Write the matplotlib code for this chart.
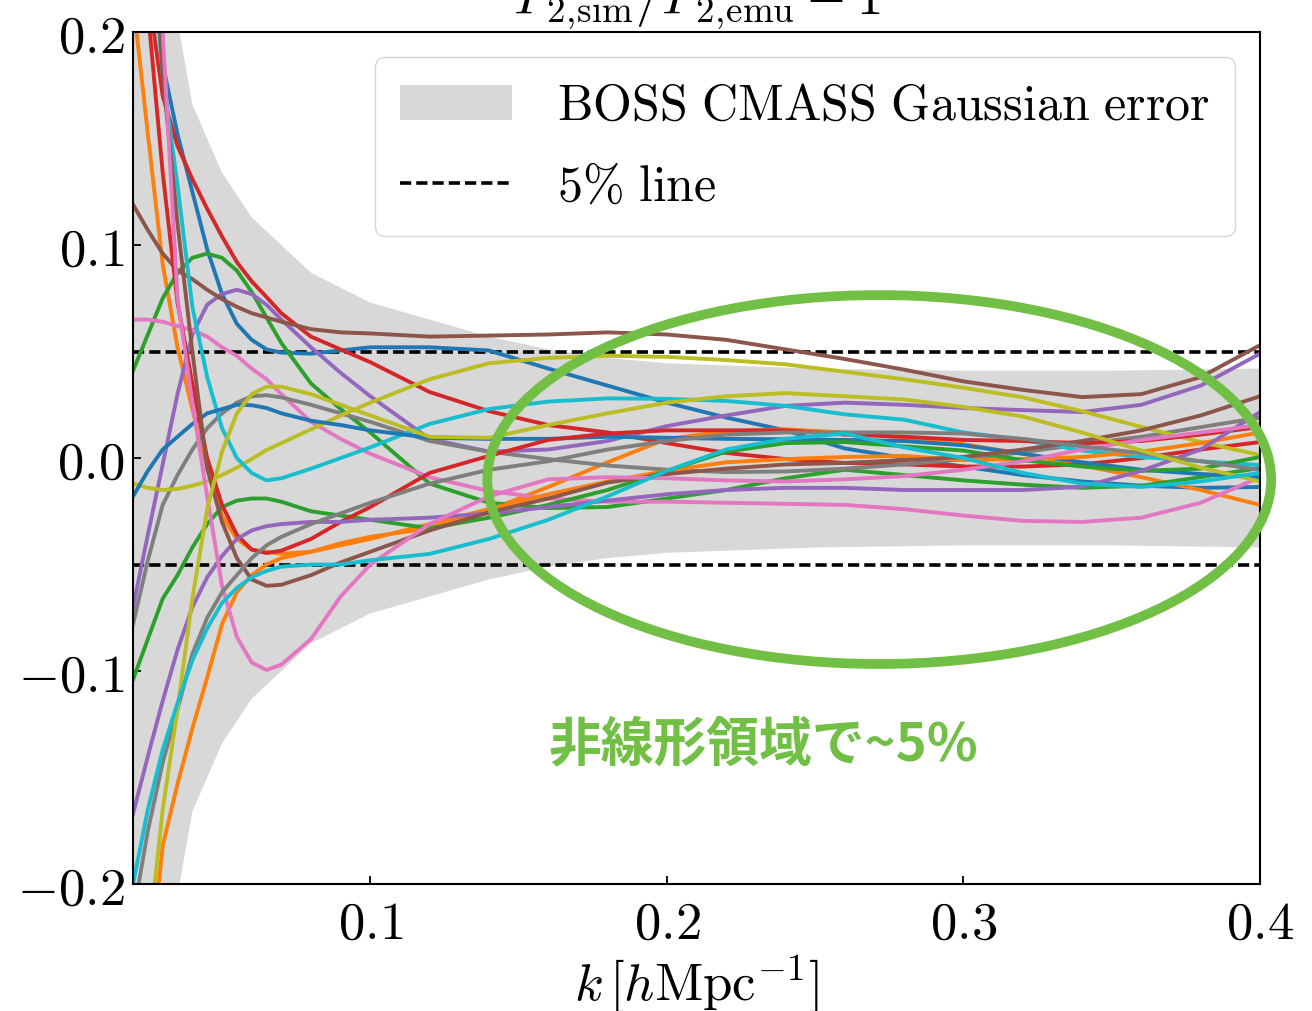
import matplotlib
matplotlib.use("Agg")
import matplotlib.pyplot as plt
from matplotlib.patches import Ellipse
from matplotlib.ticker import FuncFormatter

plt.rcParams["mathtext.fontset"] = "cm"

# k grid shared by all curves [h/Mpc]
k = [0.02, 0.025, 0.03, 0.035, 0.04, 0.045, 0.05, 0.055, 0.06, 0.065, 0.07,
     0.08, 0.09, 0.10, 0.12, 0.14, 0.16, 0.18, 0.20, 0.22, 0.24, 0.26, 0.28,
     0.30, 0.32, 0.34, 0.36, 0.38, 0.40]

# P2 sim / P2 emu - 1, two curves per colour
blue_a = [0.45, 0.26, 0.185, 0.152, 0.125, 0.098, 0.077, 0.063, 0.0555, 0.051, 0.0495,
          0.049, 0.0505, 0.052, 0.052, 0.0505, 0.042, 0.034, 0.026, 0.019, 0.013, 0.0045, 0.0,
          -0.004, -0.008, -0.011, -0.013, -0.014, -0.0136]
orange_a = [0.215, 0.152, 0.091, 0.052, 0.023, -0.004, -0.027, -0.038, -0.043, -0.044, -0.045,
            -0.044, -0.040, -0.037, -0.033, -0.0245, -0.0136, -0.002, 0.009, 0.0125, 0.0135, 0.012, 0.0095,
            0.0065, 0.002, -0.0035, -0.009, -0.015, -0.022]
green_a = [0.041, 0.058, 0.075, 0.087, 0.094, 0.096, 0.094, 0.088, 0.078, 0.066, 0.054,
           0.035, 0.023, 0.012, -0.012, -0.021, -0.0235, -0.023, -0.019, -0.015, -0.0095, -0.0055, -0.008,
           -0.0105, -0.0125, -0.014, -0.013, -0.009, -0.0047]
red_a = [0.30, 0.22, 0.17, 0.1465, 0.131, 0.117, 0.104, 0.092, 0.083, 0.0756, 0.068,
         0.057, 0.051, 0.045, 0.031, 0.022, 0.0155, 0.012, 0.007, 0.0024, -0.0005, -0.0023, -0.003,
         -0.004, -0.004, -0.003, 0.0, 0.004, 0.0075]
purple_a = [-0.07, -0.036, -0.003, 0.030, 0.058, 0.072, 0.077, 0.079, 0.077, 0.072, 0.065,
            0.052, 0.040, 0.029, 0.009, 0.003, 0.004, 0.008, 0.015, 0.020, 0.0245, 0.026, 0.025,
            0.0235, 0.0225, 0.0216, 0.025, 0.034, 0.049]
brown_a = [0.119, 0.107, 0.096, 0.088, 0.084, 0.079, 0.0746, 0.071, 0.068, 0.066, 0.064,
           0.0605, 0.059, 0.0585, 0.057, 0.0575, 0.058, 0.059, 0.058, 0.0555, 0.051, 0.0465, 0.0415,
           0.036, 0.032, 0.0286, 0.030, 0.038, 0.053]
pink_a = [0.065, 0.065, 0.064, 0.062, 0.060, 0.057, 0.052, 0.048, 0.042, 0.037, 0.030,
          0.017, 0.009, 0.002, -0.009, -0.0155, -0.019, -0.0205, -0.0205, -0.021, -0.0215, -0.022, -0.024,
          -0.027, -0.0295, -0.030, -0.028, -0.021, -0.009]
gray_a = [-0.078, -0.048, -0.022, -0.008, 0.004, 0.014, 0.021, 0.026, 0.029, 0.0295, 0.0285,
          0.025, 0.021, 0.017, 0.008, 0.003, -0.0005, -0.0035, -0.0055, -0.0066, -0.0063, -0.005, -0.003,
          -0.0005, 0.0027, 0.0065, 0.010, 0.0145, 0.019]
olive_a = [-0.012, -0.014, -0.015, -0.0145, -0.013, -0.011, -0.008, -0.0045, -0.0005, 0.0038, 0.007,
           0.0135, 0.020, 0.026, 0.037, 0.0445, 0.047, 0.048, 0.0475, 0.046, 0.044, 0.0405, 0.037,
           0.033, 0.0285, 0.022, 0.0146, 0.0075, 0.0014]
cyan_a = [0.50, 0.26, 0.18, 0.128, 0.071, 0.038, 0.014, 0.0, -0.007, -0.0105, -0.0095,
          -0.005, 0.0, 0.005, 0.016, 0.023, 0.0265, 0.028, 0.0278, 0.0268, 0.0245, 0.0205, 0.018,
          0.012, 0.0085, 0.0035, 0.0005, -0.0015, -0.0033]

blue_b = [-0.018, -0.006, 0.004, 0.010, 0.016, 0.021, 0.023, 0.025, 0.0248, 0.0235, 0.021,
          0.0175, 0.0155, 0.013, 0.0095, 0.009, 0.009, 0.010, 0.0095, 0.009, 0.0088, 0.0085, 0.008,
          0.006, 0.002, -0.002, -0.0055, -0.0075, -0.009]
orange_b = [-0.30, -0.25, -0.182, -0.153, -0.127, -0.103, -0.078, -0.063, -0.055, -0.050, -0.047,
            -0.044, -0.041, -0.038, -0.031, -0.024, -0.017, -0.011, -0.006, -0.002, -0.0005, 0.0005, 0.001,
            -0.001, -0.0005, 0.0005, 0.003, 0.007, 0.012]
green_b = [-0.104, -0.085, -0.066, -0.055, -0.042, -0.031, -0.023, -0.020, -0.019, -0.019, -0.0205,
           -0.025, -0.027, -0.029, -0.033, -0.028, -0.022, -0.015, -0.006, 0.003, 0.007, 0.0075, 0.0055,
           0.0035, -0.001, -0.004, -0.006, -0.005, 0.0005]
red_b = [0.45, 0.21, 0.134, 0.073, 0.035, 0.0, -0.022, -0.036, -0.043, -0.0446, -0.0435,
         -0.038, -0.030, -0.023, -0.007, 0.001, 0.0085, 0.0115, 0.013, 0.013, 0.013, 0.011, 0.010,
         0.0085, 0.008, 0.007, 0.008, 0.011, 0.0146]
purple_b = [-0.167, -0.14, -0.114, -0.090, -0.070, -0.056, -0.046, -0.038, -0.034, -0.032, -0.031,
            -0.030, -0.030, -0.029, -0.028, -0.026, -0.023, -0.020, -0.017, -0.015, -0.014, -0.014, -0.015,
            -0.015, -0.015, -0.0135, -0.006, 0.004, 0.0216]
brown_b = [0.55, 0.30, 0.18, 0.11, 0.05, -0.005, -0.030, -0.047, -0.057, -0.060, -0.0595,
           -0.055, -0.049, -0.044, -0.034, -0.0255, -0.019, -0.0115, -0.0075, -0.005, -0.003, -0.0023, -0.001,
           0.0005, 0.004, 0.008, 0.013, 0.020, 0.029]
pink_b = [0.60, 0.35, 0.20, 0.075, 0.026, -0.018, -0.060, -0.084, -0.096, -0.0995, -0.097,
          -0.085, -0.065, -0.050, -0.031, -0.018, -0.010, -0.009, -0.0095, -0.0105, -0.011, -0.010, -0.0085,
          -0.0055, -0.0015, 0.004, 0.0085, 0.012, 0.0155]
gray_b = [-0.215, -0.175, -0.143, -0.118, -0.092, -0.075, -0.063, -0.055, -0.047, -0.041, -0.037,
          -0.031, -0.026, -0.021, -0.012, -0.0055, -0.0015, 0.004, 0.008, 0.011, 0.012, 0.012, 0.012,
          0.0115, 0.009, 0.0055, 0.0023, -0.0015, -0.0056]
olive_b = [-0.30, -0.23, -0.165, -0.118, -0.066, -0.024, 0.003, 0.021, 0.030, 0.0335, 0.0335,
           0.030, 0.025, 0.020, 0.010, 0.0095, 0.0155, 0.021, 0.026, 0.029, 0.0305, 0.029, 0.0275,
           0.024, 0.0195, 0.012, 0.0035, -0.0045, -0.011]
cyan_b = [-0.20, -0.165, -0.137, -0.115, -0.095, -0.080, -0.068, -0.061, -0.056, -0.053, -0.051,
          -0.050, -0.050, -0.048, -0.045, -0.038, -0.029, -0.018, -0.006, 0.004, 0.009, 0.0115, 0.005,
          0.0, -0.007, -0.012, -0.0136, -0.011, -0.007]

# BOSS CMASS Gaussian error
k_err = [0.02, 0.03, 0.04, 0.05, 0.06, 0.08, 0.10, 0.12, 0.14, 0.16, 0.18, 0.20,
         0.25, 0.30, 0.35, 0.40]
err = [0.42, 0.245, 0.166, 0.134, 0.113, 0.087, 0.073, 0.065, 0.057, 0.051, 0.047, 0.0445,
       0.042, 0.041, 0.041, 0.042]

curves = [blue_a, orange_a, green_a, red_a, purple_a, brown_a, pink_a, gray_a, olive_a, cyan_a,
          blue_b, orange_b, green_b, red_b, purple_b, brown_b, pink_b, gray_b, olive_b, cyan_b]

mark_green = "#71bf44"

fig = plt.figure(figsize=(13.12, 10.11), dpi=100)
ax = fig.add_axes([0.1014, 0.1256, 0.859, 0.8427])

lower = [-e for e in err]
ax.fill_between(k_err, lower, err, color="gray", alpha=0.3, lw=0,
                label=r"$\mathrm{BOSS\ CMASS\ Gaussian\ error}$")
ax.axhline(0.05, color="k", ls=(0, (3.1, 1.4)), lw=2.6, label=r"$5\%\ \mathrm{line}$")
ax.axhline(-0.05, color="k", ls=(0, (3.1, 1.4)), lw=2.6)

for i, c in enumerate(curves):
    ax.plot(k, c, color="C%d" % (i % 10), lw=2.8)

ax.set_xlim(0.02, 0.4)
ax.set_ylim(-0.2, 0.2)
ax.set_xticks([0.1, 0.2, 0.3, 0.4])
ax.set_yticks([-0.2, -0.1, 0.0, 0.1, 0.2])
fmt = FuncFormatter(lambda v, p: r"$%.1f$" % (round(v, 1) + 0.0))
ax.xaxis.set_major_formatter(fmt)
ax.yaxis.set_major_formatter(fmt)
ax.tick_params(direction="in", length=6, width=1.3, labelsize=38)
ax.tick_params(axis="x", pad=10)
ax.tick_params(axis="y", pad=6)
for s in ax.spines.values():
    s.set_linewidth(1.5)

ax.set_xlabel(r"$k\,[h\mathrm{Mpc}^{-1}]$", fontsize=38, labelpad=2)
# title sits mostly above the top edge, as in the cropped original
ax.set_title(r"$P_{2,\!\mathrm{sim}}/P_{2,\!\mathrm{emu}}-1$", fontsize=38, pad=11)

ax.legend(loc="upper right", fontsize=36, handlelength=2.25, handletextpad=0.9,
          borderaxespad=0.5, borderpad=0.5, labelspacing=0.65)

ax.add_patch(Ellipse((0.2716, -0.0101), 0.2643, 0.1732, fill=False,
                     edgecolor=mark_green, lw=7, clip_on=False, zorder=6))
ax.text(0.2325, -0.1347, "非線形領域で~5%", color=mark_green, fontsize=38,
        fontweight="bold", ha="center", va="center",
        family=["Noto Sans CJK JP", "DejaVu Sans"], zorder=7)

fig.savefig("out.png", dpi=100)
